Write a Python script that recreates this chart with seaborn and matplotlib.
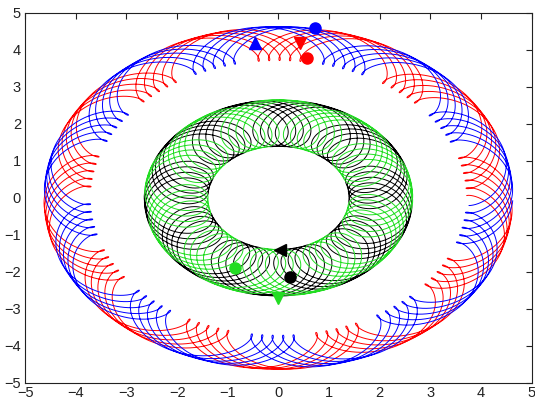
import numpy as np
import pandas as pd
import seaborn as sns
import matplotlib.pyplot as plt

# orbit parameters (deferent + epicycle)
orbit_names = ['red', 'blue', 'black', 'green']
orbit_colors = ['#ff0000', '#0000ff', '#000000', '#22dd22']
base_radius = [4.17, 4.17, 2.02, 2.02]
loop_radius = [0.46, 0.46, 0.63, 0.63]
loops_per_turn = [9.08, 9.08, 9.12, 9.12]
n_turns = [5, 5, 4, 4]
first_loop_deg = [96, 116, 95, 115]

# end markers
marker_x = [0.42, 0.56, -0.46, 0.72, 0.03, 0.23, 0.0, -0.86]
marker_y = [4.19, 3.78, 4.19, 4.60, -1.40, -2.14, -2.70, -1.90]
marker_shape = ['v', 'o', '^', 'o', '<', 'o', 'v', 'o']
marker_color = ['#ff0000', '#ff0000', '#0000ff', '#0000ff',
                '#000000', '#000000', '#22dd22', '#22dd22']

ticks = list(range(-5, 6))

frames = []
for i, name in enumerate(orbit_names):
    t = np.linspace(0, 2 * np.pi * n_turns[i], 6000 * n_turns[i])
    m = loops_per_turn[i]
    phi = np.pi - m * np.deg2rad(first_loop_deg[i])
    z = base_radius[i] * np.exp(1j * t) + loop_radius[i] * np.exp(1j * ((m + 1) * t + phi))
    frames.append(pd.DataFrame({'x': z.real, 'y': z.imag, 'orbit': name, 'step': np.arange(len(t))}))
df = pd.concat(frames, ignore_index=True)

sns.set_style('white')
plt.rcParams['font.family'] = ['Liberation Sans', 'DejaVu Sans']

fig = plt.figure(figsize=(5.35, 4.01), dpi=100)
ax = fig.add_axes([0.047, 0.045, 0.947, 0.923])

for name, col in zip(orbit_names, orbit_colors):
    sub = df[df['orbit'] == name]
    sns.lineplot(data=sub, x='x', y='y', sort=False, estimator=None,
                 color=col, linewidth=0.7, ax=ax)

for mx, my, ms, mc in zip(marker_x, marker_y, marker_shape, marker_color):
    ax.plot(mx, my, marker=ms, color=mc, markersize=8, linestyle='none')

ax.set_xlim(-5, 5)
ax.set_ylim(-5, 5)
ax.set_xticks(ticks)
ax.set_yticks(ticks)
ax.set_xlabel('')
ax.set_ylabel('')
ax.tick_params(direction='in', length=4, width=0.8, top=True, right=True,
               labelsize=10.5, colors='#222222')
ax.tick_params(axis='x', pad=2)
ax.tick_params(axis='y', pad=3)
for s in ax.spines.values():
    s.set_color('#222222')
    s.set_linewidth(0.8)

fig.savefig('out.png', dpi=100)
